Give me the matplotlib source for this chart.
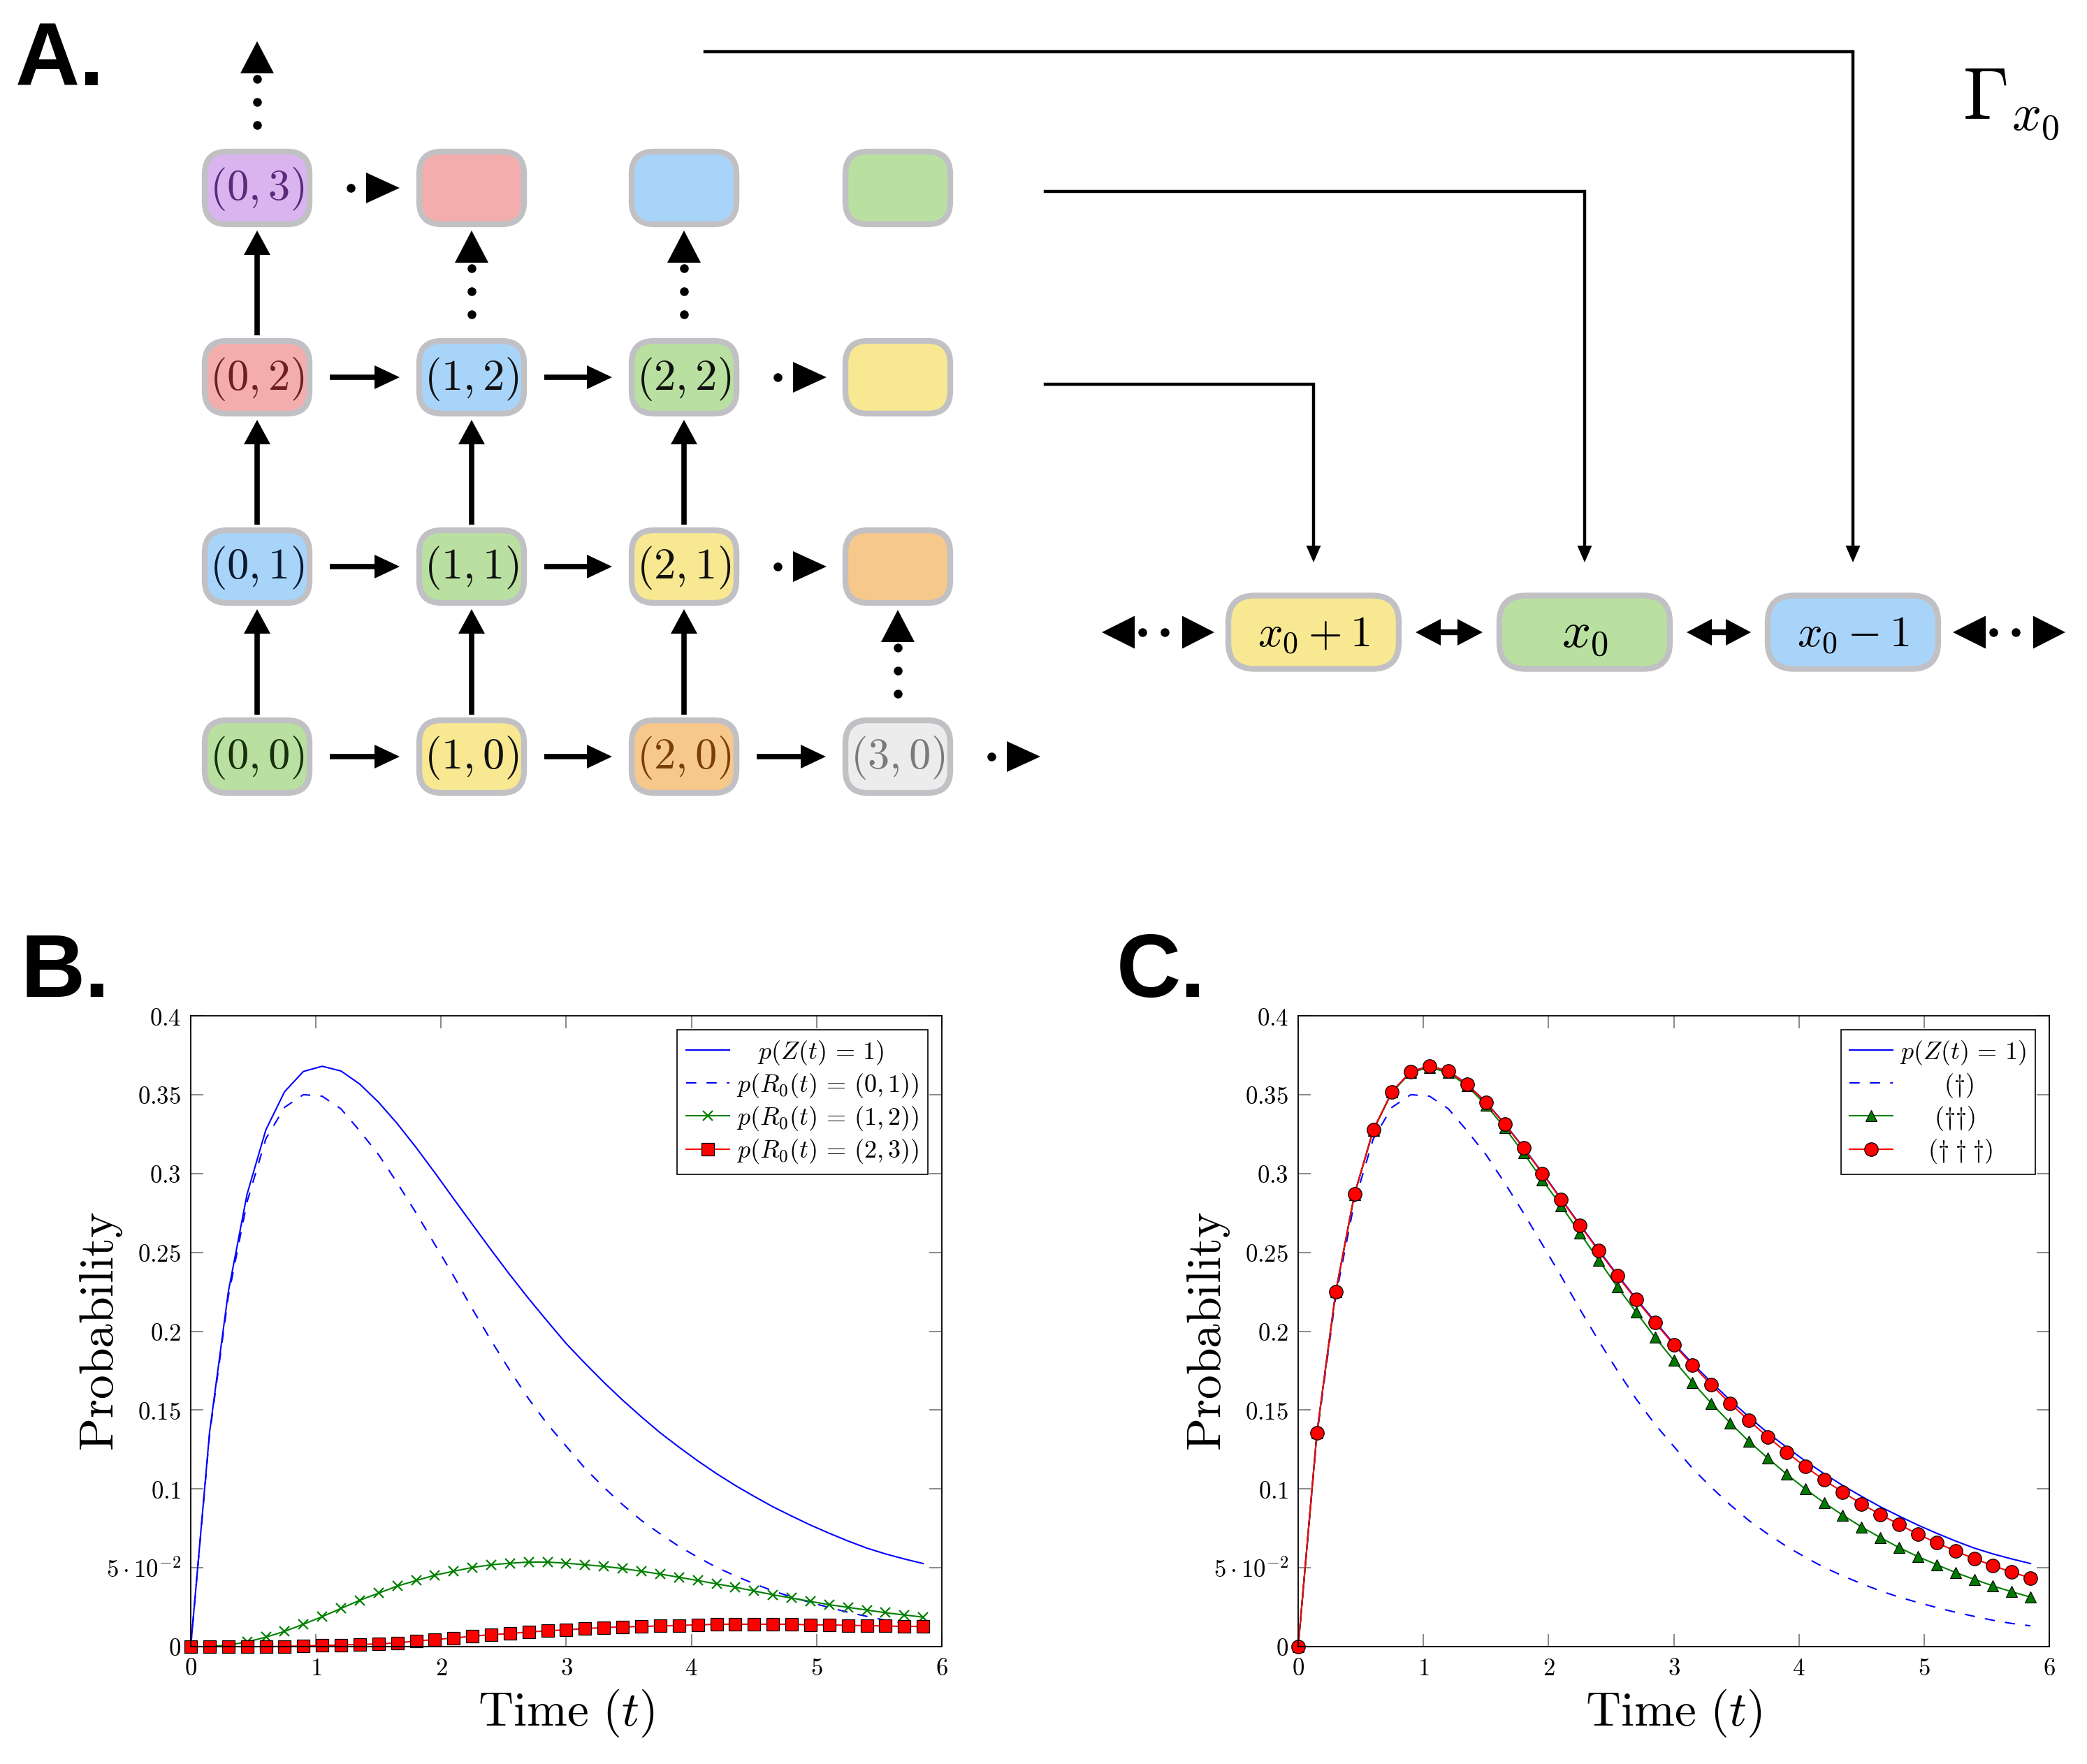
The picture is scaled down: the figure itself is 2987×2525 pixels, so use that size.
import numpy as np
import matplotlib
matplotlib.use("Agg")
import matplotlib.pyplot as plt
from matplotlib.patches import FancyBboxPatch, Polygon

plt.rcParams['mathtext.fontset'] = 'cm'
plt.rcParams['font.family'] = ['DejaVu Sans']

W, H = 2987, 2525

# ---- data ----
t = [0, 0.15, 0.3, 0.45, 0.6, 0.75, 0.9, 1.05, 1.2, 1.35, 1.5, 1.65, 1.8, 1.95,
     2.1, 2.25, 2.4, 2.55, 2.7, 2.85, 3.0, 3.15, 3.3, 3.45, 3.6, 3.75, 3.9, 4.05,
     4.2, 4.35, 4.5, 4.65, 4.8, 4.95, 5.1, 5.25, 5.4, 5.55, 5.7, 5.85]

p_z1 = [0, 0.1356, 0.2249, 0.2869, 0.3277, 0.3519, 0.3647, 0.3680, 0.3650, 0.3567,
        0.3452, 0.3316, 0.3165, 0.3005, 0.2840, 0.2677, 0.2515, 0.2357, 0.2206, 0.2062,
        0.1921, 0.1796, 0.1676, 0.1563, 0.1457, 0.1356, 0.1265, 0.1178, 0.1097, 0.1022,
        0.0953, 0.0887, 0.0828, 0.0771, 0.0719, 0.0670, 0.0625, 0.0588, 0.0556, 0.0527]

p_r01 = [0, 0.134, 0.222, 0.282, 0.322, 0.342, 0.350, 0.349, 0.341, 0.327,
         0.312, 0.294, 0.275, 0.255, 0.235, 0.214, 0.194, 0.175, 0.157, 0.141,
         0.127, 0.113, 0.101, 0.0900, 0.0800, 0.0715, 0.0636, 0.0567, 0.0503, 0.0449,
         0.0399, 0.0354, 0.0314, 0.0280, 0.0248, 0.0218, 0.0192, 0.0167, 0.0147, 0.0132]

p_r12 = [0, 0, 0.001, 0.003, 0.006, 0.0097, 0.0142, 0.019, 0.0242, 0.0294,
         0.0339, 0.0384, 0.0419, 0.0453, 0.0478, 0.0502, 0.0519, 0.0529, 0.0536, 0.0536,
         0.0529, 0.0519, 0.0509, 0.0495, 0.0478, 0.046, 0.044, 0.0419, 0.0398, 0.0377,
         0.0353, 0.0329, 0.0308, 0.0287, 0.0266, 0.0249, 0.0232, 0.0215, 0.0201, 0.0187]

p_r23 = [0, 0, 0, 0, 0, 0.0002, 0.0004, 0.0008, 0.0010, 0.0014,
         0.0017, 0.0024, 0.0035, 0.0045, 0.0055, 0.0066, 0.0076, 0.0083, 0.0093, 0.0100,
         0.0107, 0.0114, 0.0121, 0.0125, 0.0128, 0.0131, 0.0135, 0.0138, 0.0142, 0.0142,
         0.0142, 0.0142, 0.0142, 0.0138, 0.0138, 0.0135, 0.0133, 0.0131, 0.0128, 0.0128]

approx2 = [0, 0.1356, 0.2249, 0.2867, 0.3274, 0.3515, 0.3642, 0.3672, 0.3640, 0.3555,
           0.3435, 0.3290, 0.3130, 0.2960, 0.2796, 0.2623, 0.2451, 0.2281, 0.2121, 0.1962,
           0.1816, 0.1676, 0.1543, 0.1419, 0.1302, 0.1196, 0.1095, 0.1000, 0.0913, 0.0834,
           0.0759, 0.0692, 0.0628, 0.0571, 0.0520, 0.0470, 0.0427, 0.0385, 0.0348, 0.0314]

approx3 = [0, 0.1356, 0.2249, 0.2869, 0.3277, 0.3519, 0.3647, 0.3680, 0.3650, 0.3565,
           0.3450, 0.3313, 0.3161, 0.3001, 0.2836, 0.2672, 0.2510, 0.2350, 0.2200, 0.2055,
           0.1915, 0.1785, 0.1660, 0.1543, 0.1434, 0.1330, 0.1233, 0.1142, 0.1057, 0.0980,
           0.0905, 0.0838, 0.0775, 0.0713, 0.0658, 0.0607, 0.0557, 0.0514, 0.0472, 0.0436]

labels_b = [r'$\quad p(Z(t)\,=\,1)$', r'$p(R_0(t)\,=\,(0,1))$',
            r'$p(R_0(t)\,=\,(1,2))$', r'$p(R_0(t)\,=\,(2,3))$']
labels_c = [r'$p(Z(t)\,=\,1)$', r'$\qquad(\dag)$', r'$\quad\;\;(\dag\dag)$',
            r'$\quad\;(\dag\;\dag\;\dag)$']

yticks = [0, 0.05, 0.1, 0.15, 0.2, 0.25, 0.3, 0.35, 0.4]
ytick_labels = ['$0$', r'$5\cdot10^{-2}$', '$0.1$', '$0.15$', '$0.2$', '$0.25$', '$0.3$', '$0.35$', '$0.4$']
xticks = [0, 1, 2, 3, 4, 5, 6]

# grid of states (col, row, label, face colour, text colour)
grid_nodes = [
    (0, 0, '(0,0)', '#b9e0a0', '#18300c'), (1, 0, '(1,0)', '#f8e892', '#111111'),
    (2, 0, '(2,0)', '#f7c88c', '#7a4000'), (3, 0, '(3,0)', '#ececec', '#7a7a7a'),
    (0, 1, '(0,1)', '#a9d4fa', '#0a1a30'), (1, 1, '(1,1)', '#b9e0a0', '#111111'),
    (2, 1, '(2,1)', '#f8e892', '#111111'), (3, 1, '', '#f7c88c', '#111111'),
    (0, 2, '(0,2)', '#f4adad', '#6e1f1f'), (1, 2, '(1,2)', '#a9d4fa', '#111111'),
    (2, 2, '(2,2)', '#b9e0a0', '#111111'), (3, 2, '', '#f8e892', '#111111'),
    (0, 3, '(0,3)', '#d9b4ef', '#5b2a78'), (1, 3, '', '#f4adad', '#111111'),
    (2, 3, '', '#a9d4fa', '#111111'), (3, 3, '', '#b9e0a0', '#111111'),
]
solid_h = [(0, 0), (1, 0), (2, 0), (0, 1), (1, 1), (0, 2), (1, 2)]
solid_v = [(0, 0), (0, 1), (0, 2), (1, 0), (1, 1), (2, 0), (2, 1)]
dotted_h = [(0, 3), (2, 2), (2, 1), (3, 0)]
dotted_v = [(0, 3), (1, 2), (2, 2), (3, 0)]

chain_labels = [r'$x_0+1$', r'$x_0$', r'$x_0-1$']
chain_colors = ['#f8e892', '#b9e0a0', '#a9d4fa']
chain_sizes = [45, 52, 45]

# ---- layout ----
col_x = [368, 675, 979, 1285]
row_y = [1083, 811, 540, 269]
bw, bh = 150, 104
chain_x = [1880, 2268, 2652]
chain_y = 905
cw, ch = 244, 105

fig = plt.figure(figsize=(W / 100, H / 100), dpi=100)
ax0 = fig.add_axes([0, 0, 1, 1])
ax0.set_xlim(0, W)
ax0.set_ylim(H, 0)
ax0.axis('off')


def head(tip, d, L, w):
    tx, ty = tip
    dx, dy = d
    bx, by = tx - L * dx, ty - L * dy
    px, py = -dy, dx
    ax0.add_patch(Polygon([(tx, ty), (bx + w / 2 * px, by + w / 2 * py),
                           (bx - w / 2 * px, by - w / 2 * py)],
                          closed=True, fc='black', ec='none', zorder=4))


def arrow(x0, y0, x1, y1, lw=5.5, L=36, w=36):
    d = np.array([x1 - x0, y1 - y0], float)
    d = d / np.hypot(*d)
    ax0.plot([x0, x1 - L * d[0] * 0.9], [y0, y1 - L * d[1] * 0.9], color='black',
             lw=lw, solid_capstyle='butt', zorder=3)
    head((x1, y1), d, L, w)


def box(cx, cy, w, h, face, r=30):
    ax0.add_patch(FancyBboxPatch((cx - w / 2 + r, cy - h / 2 + r), w - 2 * r, h - 2 * r,
                                 boxstyle='round,pad=%d' % r, fc=face, ec='#c1c1c5',
                                 lw=6, zorder=2))


for c, r, lab, fc, tc in grid_nodes:
    cx, cy = col_x[c], row_y[r]
    box(cx, cy, bw, bh, fc, r=32)
    if lab:
        a, b = lab.strip('()').split(',')
        ax0.text(cx, cy + 2, r'$(%s,%s)$' % (a, b), fontsize=45, color=tc,
                 ha='center', va='center', zorder=5)

for c, r in solid_h:
    arrow(col_x[c] + bw / 2 + 29, row_y[r], col_x[c + 1] - bw / 2 - 28, row_y[r], L=36, w=34)
for c, r in solid_v:
    arrow(col_x[c], row_y[r] - bh / 2 - 8, col_x[c], row_y[r + 1] + bh / 2 + 9, L=35, w=38)

for c, r in dotted_h:
    right = col_x[c] + bw / 2
    ax0.plot([right + 59], [row_y[r]], 'o', color='black', ms=8, zorder=4)
    head((right + 129, row_y[r]), (1, 0), 48, 44)
for c, r in dotted_v:
    top = row_y[r] - bh / 2
    ax0.plot([col_x[c]] * 3, [top - 38, top - 71, top - 104], 'o', color='black', ms=8, zorder=4)
    head((col_x[c], top - 158), (0, -1), 46, 48)

# chain on the right
for x, lab, fc, fs in zip(chain_x, chain_labels, chain_colors, chain_sizes):
    box(x, chain_y, cw, ch, fc, r=38)
    ax0.text(x, chain_y + 3, lab, fontsize=fs, ha='center', va='center', zorder=5)
for i in range(2):
    xa = chain_x[i] + cw / 2 + 24
    xb = chain_x[i + 1] - cw / 2 - 24
    ax0.plot([xa + 30, xb - 30], [chain_y, chain_y], color='black', lw=6, zorder=3)
    head((xa, chain_y), (-1, 0), 36, 38)
    head((xb, chain_y), (1, 0), 36, 38)
for xl in [chain_x[0] - cw / 2 - 20, chain_x[2] + cw / 2 + 182]:
    head((xl - 161, chain_y), (-1, 0), 47, 47)
    ax0.plot([xl - 103, xl - 71], [chain_y, chain_y], 'o', color='black', ms=8, zorder=4)
    head((xl, chain_y), (1, 0), 46, 47)

# lines from the grid to the chain
route_start = [1009, 1496, 1496]
route_y = [74, 274, 550]
route_target = [2652, 2268, 1880]
for xs, ys, xt in zip(route_start, route_y, route_target):
    ax0.plot([xs, xt, xt], [ys, ys, 785], color='black', lw=3.2, zorder=3,
             solid_joinstyle='miter')
    head((xt, 805), (0, 1), 24, 21)

ax0.text(2878, 150, r'$\Gamma_{x_0}$', fontsize=76, ha='center', va='center')

for lab, x, y in [('A.', 22, 122), ('B.', 29, 1427), ('C.', 1598, 1427)]:
    fig.text(x / W, 1 - y / H, lab, fontsize=92, fontweight='bold',
             family='Liberation Sans', va='baseline', ha='left')

# ---- plots ----
axb = fig.add_axes([273 / W, 1 - 2357 / H, 1075 / W, 903 / H])
axc = fig.add_axes([1858 / W, 1 - 2357 / H, 1075 / W, 903 / H])

axb.plot(t, p_z1, color='blue', lw=1.5, label=labels_b[0], clip_on=False)
axb.plot(t, p_r01, color='blue', lw=1.5, dashes=(7, 7), label=labels_b[1], clip_on=False)
axb.plot(t, p_r12, color='green', lw=1.5, marker='x', ms=10, mew=1.6, label=labels_b[2], clip_on=False)
axb.plot(t, p_r23, color='red', lw=1.5, marker='s', ms=13, mfc='red', mec='black', mew=0.9,
         label=labels_b[3], clip_on=False)

axc.plot(t, p_z1, color='blue', lw=1.5, label=labels_c[0], clip_on=False)
axc.plot(t, p_r01, color='blue', lw=1.5, dashes=(7, 7), label=labels_c[1], clip_on=False)
axc.plot(t, approx2, color='green', lw=1.5, marker='^', ms=12, mfc='#007a00', mec='black',
         mew=0.8, label=labels_c[2], clip_on=False)
axc.plot(t, approx3, color='red', lw=1.5, marker='o', ms=14, mfc='red', mec='black', mew=0.9,
         label=labels_c[3], clip_on=False)

for ax in [axb, axc]:
    ax.set_xlim(0, 6)
    ax.set_ylim(0, 0.4)
    ax.set_xticks(xticks)
    ax.set_xticklabels(['$%d$' % v for v in xticks])
    ax.set_yticks(yticks)
    ax.set_yticklabels(ytick_labels)
    ax.tick_params(direction='in', top=True, right=True, length=13, width=1.3,
                   color='#808080', labelsize=25, pad=10)
    for s in ax.spines.values():
        s.set_linewidth(1.3)
    ax.set_xlabel(r'$\mathrm{Time}\ (t)$', fontsize=50, labelpad=8)
    ax.set_ylabel(r'$\mathrm{Probability}$', fontsize=50)
    ax.yaxis.set_label_coords(-0.088, 0.5)
    leg = ax.legend(loc='upper right', fontsize=26, fancybox=False, framealpha=1,
                    edgecolor='black', handlelength=1.7, handletextpad=0.3,
                    borderpad=0.35, labelspacing=0.2, borderaxespad=0.55)
    leg.get_frame().set_linewidth(1.2)

fig.savefig('out.png', dpi=100)
